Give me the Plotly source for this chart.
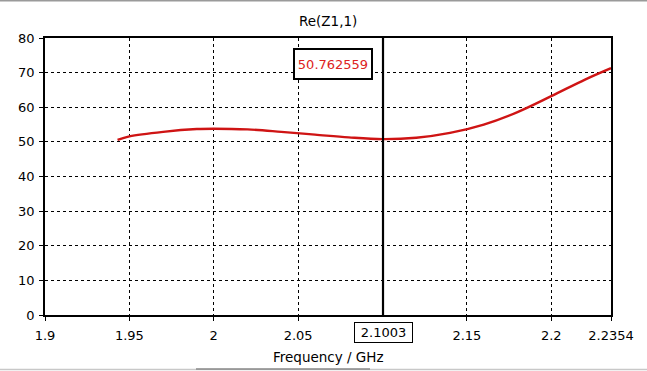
import plotly.graph_objects as go

freq = [1.943, 1.95, 1.97, 1.99, 2.00, 2.02, 2.04, 2.06, 2.08, 2.10, 2.12, 2.14, 2.16, 2.18, 2.20, 2.22, 2.2354]
re_z = [50.6, 51.6, 52.9, 53.7, 53.8, 53.6, 52.9, 52.1, 51.3, 50.8, 51.2, 52.6, 55.0, 58.6, 63.2, 68.0, 71.3]

x_ticks = [1.9, 1.95, 2.0, 2.05, 2.15, 2.2, 2.2354]
x_tick_labels = ["1.9", "1.95", "2", "2.05", "2.15", "2.2", "2.2354"]
y_ticks = [0, 10, 20, 30, 40, 50, 60, 70, 80]
marker_x = 2.1003
marker_value = "50.762559"
title_text = "Re(Z1,1)"
x_title = "Frequency / GHz"

FONT = "DejaVu Sans"
W, H = 647, 371
L, R, T, B = 45, 36, 38, 55.5
PW = W - L - R
PH = H - T - B

def px_to_py(py):
    return (H - B - py) / PH

def px_to_px(px):
    return (px - L) / PW

fig = go.Figure()
fig.add_trace(go.Scatter(
    x=freq, y=re_z, mode="lines",
    line=dict(color="#cf1414", width=2.4, shape="spline", smoothing=1.0),
    hoverinfo="skip", showlegend=False,
))

fig.update_layout(
    width=W, height=H,
    margin=dict(l=L, r=R, t=T, b=B, pad=0, autoexpand=False),
    paper_bgcolor="white", plot_bgcolor="white",
    font=dict(family=FONT, size=13, color="black"),
    showlegend=False,
    xaxis=dict(
        range=[1.9, 2.2354], tickvals=x_ticks, ticktext=x_tick_labels,
        showgrid=True, gridcolor="black", gridwidth=1, griddash="3px,3px",
        showline=True, linecolor="black", linewidth=1.5, mirror=True,
        ticks="outside", ticklen=4, tickcolor="black", tickwidth=1,
        ticklabelstandoff=4, zeroline=False, automargin=False,
        tickfont=dict(family=FONT, size=13, color="black"),
    ),
    yaxis=dict(
        range=[0, 80], tickvals=y_ticks,
        showgrid=True, gridcolor="black", gridwidth=1, griddash="3px,3px",
        showline=True, linecolor="black", linewidth=1.5, mirror=True,
        ticks="outside", ticklen=4, tickcolor="black", tickwidth=1,
        ticklabelstandoff=2, zeroline=False, automargin=False,
        tickfont=dict(family=FONT, size=13, color="black"),
    ),
)

# marker line
fig.add_shape(type="line", xref="x", yref="y", x0=marker_x, x1=marker_x, y0=0, y1=80,
              line=dict(color="black", width=2.2), layer="above")

# marker value box
fig.add_annotation(
    xref="x", yref="paper", x=1.9 + (333 - L) / PW * 0.3354, y=px_to_py(64),
    text=marker_value, showarrow=False, xanchor="center", yanchor="middle",
    font=dict(family=FONT, size=13, color="#dd2222"),
    bgcolor="white", bordercolor="black", borderwidth=2, borderpad=2,
    width=72, height=24,
)

# marker x label box
fig.add_annotation(
    xref="x", yref="paper", x=marker_x, y=px_to_py(333.3),
    text="2.1003", showarrow=False, xanchor="center", yanchor="middle",
    font=dict(family=FONT, size=13, color="black"),
    bgcolor="white", bordercolor="black", borderwidth=1, borderpad=2,
    width=53, height=15,
)

# title
fig.add_annotation(
    xref="paper", yref="paper", x=px_to_px(328), y=px_to_py(21),
    text=title_text, showarrow=False, xanchor="center", yanchor="middle",
    font=dict(family=FONT, size=13.5, color="black"),
)

# x-axis title
fig.add_annotation(
    xref="paper", yref="paper", x=px_to_px(328), y=px_to_py(357.3),
    text=x_title, showarrow=False, xanchor="center", yanchor="middle",
    font=dict(family=FONT, size=13.5, color="black"),
)

# window frame lines
fig.add_shape(type="line", xref="paper", yref="paper",
              x0=px_to_px(0), x1=px_to_px(W), y0=px_to_py(0.75), y1=px_to_py(0.75),
              line=dict(color="#9a9a9a", width=1.5), layer="above")
fig.add_shape(type="line", xref="paper", yref="paper",
              x0=px_to_px(0), x1=px_to_px(W), y0=px_to_py(370), y1=px_to_py(370),
              line=dict(color="#c8c8c8", width=1.5), layer="above")
fig.add_shape(type="line", xref="paper", yref="paper",
              x0=px_to_px(196), x1=px_to_px(370), y0=px_to_py(369.5), y1=px_to_py(369.5),
              line=dict(color="#8a8a8a", width=1.5), layer="above")

fig.write_html("out.html", config={"displayModeBar": False},
               post_script="document.body.style.margin='0';document.body.style.overflow='hidden';")
